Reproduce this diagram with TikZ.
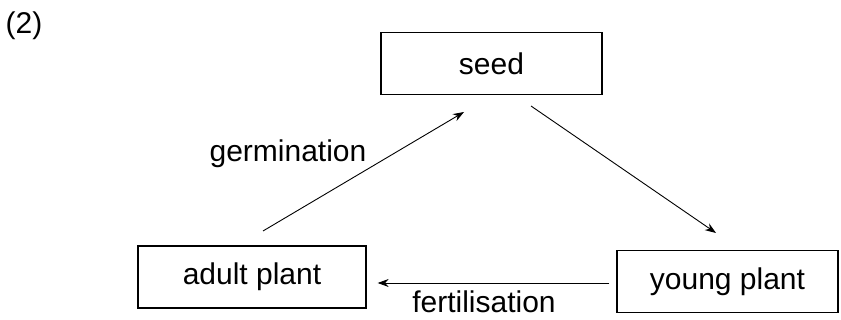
\documentclass[tikz,border=0pt]{standalone}
\usepackage{fontspec}
\setmainfont{Liberation Sans}
\usetikzlibrary{arrows.meta, positioning}

\begin{document}
\begin{tikzpicture}[
  x=1pt, y=-1pt,
  font=\fontsize{30}{36}\selectfont,
  >={Stealth[length=11pt, width=8pt]},
  stage/.style={draw, line width=1.3pt, inner sep=0pt, minimum height=62pt},
  arr/.style={->, line width=0.9pt},
  ]
\useasboundingbox (0,0) rectangle (841,320);

\node[anchor=center] (part) at (24,26) {(2)};

\node[stage, minimum width=221pt] (seed) at (491.5,63.5) {seed};
\node[stage, minimum width=228pt] (adult) at (252,277) {adult plant};
\node[stage, minimum width=221pt] (young) at (727.5,281.5) {young plant};

% free ends of the connectors
\coordinate (germ start) at (263,231);
\coordinate (germ end) at (464,112);
\coordinate (grow start) at (531,106);
\coordinate (grow end) at (716,233);

\draw[arr] (germ start) -- (germ end);
\draw[arr] (grow start) -- (grow end);
\draw[arr, shorten >=11pt, shorten <=7pt] (young.west |- 0,283) -- (adult.east |- 0,283);

\node (germ) at (288,154) {germination};
\node (fert) at (484,302) {fertilisation};
\end{tikzpicture}
\end{document}
